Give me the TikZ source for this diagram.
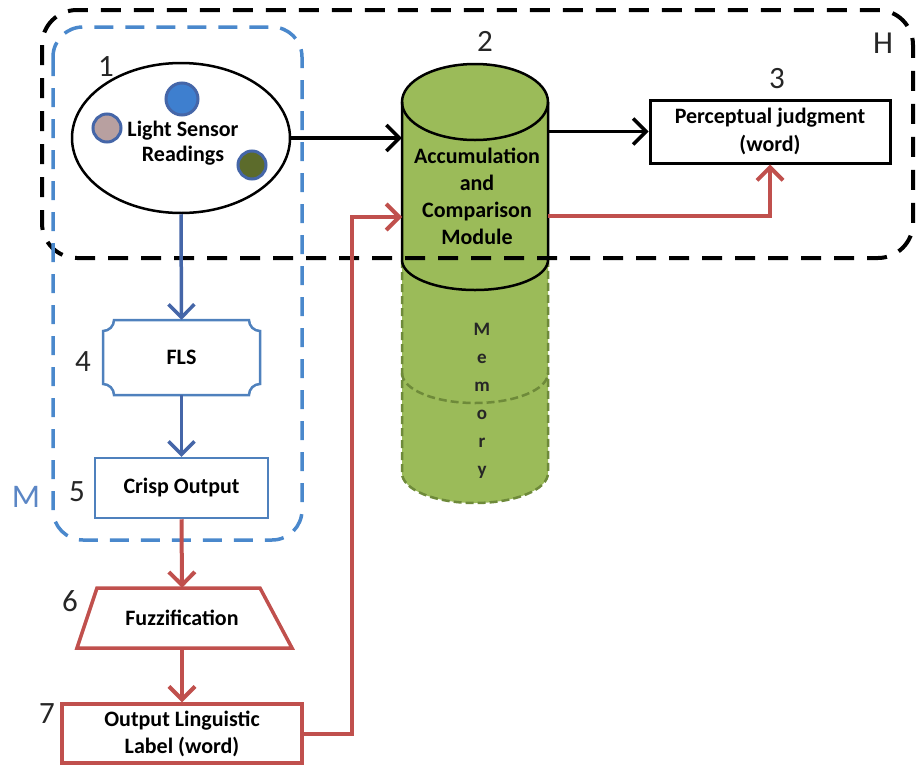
\documentclass[tikz,border=0pt]{standalone}
\usepackage{fontspec}
\setmainfont{Carlito}
\usetikzlibrary{arrows.meta,shapes.geometric,calc}
\definecolor{myred}{HTML}{C0504D}
\definecolor{myblue}{HTML}{4F81BD}
\definecolor{arrblue}{HTML}{4566A8}
\definecolor{dashblue}{HTML}{4A88CC}
\definecolor{cylgreen}{HTML}{9BBB59}
\definecolor{memedge}{HTML}{6E8A3A}
\definecolor{numgray}{HTML}{262626}
\definecolor{mlabel}{HTML}{5B86C5}
\definecolor{dotblue}{HTML}{3E7FCF}
\begin{document}
\begin{tikzpicture}[x=1pt,y=-1pt,
  txt/.style={font=\bfseries\fontsize{22}{27}\selectfont, align=center, text=black},
  numlbl/.style={font=\fontsize{31}{33}\selectfont, text=numgray, inner sep=0},
  arr/.style={line width=3.5pt, -{Straight Barb[length=13pt,width=26pt]}},
  bluebox/.style={draw=myblue, line width=2.5pt},
  redbox/.style={draw=myred, line width=3.5pt},
  dot/.style={circle, draw=arrblue, line width=3pt, inner sep=0, minimum size=28pt}]
\useasboundingbox (0,0) rectangle (921,766);

% ---- Memory (dashed lower cylinder)
\draw[memedge, line width=2.5pt, dash pattern=on 8pt off 4pt, fill=cylgreen]
  (402,260) -- (402,473) arc[start angle=180,end angle=0,x radius=73,y radius=30] -- (548,260);
\draw[memedge, line width=2.5pt, dash pattern=on 8pt off 4pt]
  (402,373) arc[start angle=180,end angle=0,x radius=73,y radius=30];
\node[font=\bfseries\fontsize{19}{28}\selectfont, align=center, text=numgray] (mem) at (482,401) {M\\e\\m\\o\\r\\y};

% ---- Accumulation cylinder
\fill[cylgreen] (402,102) -- (402,260) arc[start angle=180,end angle=0,x radius=73,y radius=30]
  -- (548,102) arc[start angle=0,end angle=-180,x radius=73,y radius=38] -- cycle;
\draw[black, line width=2.5pt] (402,102) -- (402,260) arc[start angle=180,end angle=0,x radius=73,y radius=30] -- (548,102);
\draw[black, line width=2.5pt] (475,102) ellipse [x radius=73, y radius=38];
\node[minimum width=146pt, minimum height=158pt, inner sep=0] (cyl) at (475,181) {};
\node[txt] (acm) at (477,196) {Accumulation\\and\\Comparison\\Module};

% ---- H box
\draw[black, line width=4pt, dash pattern=on 20pt off 13pt, rounded corners=35pt] (42,10) rectangle (913,258);
\node[numlbl, font=\fontsize{32}{34}\selectfont] (hl) at (883,43) {H};

% ---- M box
\draw[dashblue, line width=3.5pt, dash pattern=on 19pt off 12pt, rounded corners=30pt] (53,27) rectangle (302,540);
\node[numlbl, text=mlabel, font=\fontsize{33}{35}\selectfont] (ml) at (26,497) {M};

% ---- Light sensor ellipse
\node[ellipse, draw=black, line width=2.5pt, minimum width=218pt, minimum height=150pt, inner sep=0] (ell) at (181,138) {};
\node[txt, font=\bfseries\fontsize{22}{25}\selectfont] (lsr) at (183,143) {Light Sensor\\Readings};
\node[dot, fill=dotblue, minimum size=32pt] (d1) at (182,99) {};
\node[dot, fill={rgb,255:red,184;green,160;blue,160}] (d2) at (107,128) {};
\node[dot, fill={rgb,255:red,92;green,107;blue,43}] (d3) at (252,165) {};

% ---- Perceptual judgment
\node[draw=black, line width=3pt, minimum width=240pt, minimum height=63pt, txt, font=\bfseries\fontsize{22}{28}\selectfont] (pj) at (770,131.5) {Perceptual judgment\\(word)};

% ---- FLS
\draw[bluebox] (114,320) -- (249,320) arc[start angle=180,end angle=90,radius=11]
  -- (260,384) arc[start angle=270,end angle=180,radius=11]
  -- (114,395) arc[start angle=0,end angle=-90,radius=11]
  -- (103,331) arc[start angle=90,end angle=0,radius=11] -- cycle;
\node[minimum width=157pt, minimum height=75pt, inner sep=0, txt] (fls) at (181.5,357.5) {FLS};

% ---- Crisp output
\node[bluebox, minimum width=173pt, minimum height=60pt, inner sep=0, txt] (crisp) at (181.5,488) {Crisp Output};

% ---- Fuzzification
\draw[redbox, line join=miter] (97,588) -- (260,588) -- (292,648) -- (77,648) -- cycle;
\node[minimum width=160pt, minimum height=60pt, inner sep=0, txt] (fz) at (182,618) {Fuzzification};

% ---- Output linguistic label
\node[redbox, minimum width=240pt, minimum height=59pt, inner sep=0, txt] (ol) at (182,733.5) {Output Linguistic\\Label (word)};

% ---- number labels
\node[numlbl] (n1) at (106,67) {1};
\node[numlbl] (n2) at (485,41) {2};
\node[numlbl] (n3) at (777,79) {3};
\node[numlbl] (n4) at (83,362) {4};
\node[numlbl] (n5) at (77,492) {5};
\node[numlbl] (n6) at (70,601) {6};
\node[numlbl] (n7) at (47,714) {7};

% ---- connector helpers
\coordinate (cin) at (402,217);
\coordinate (cout) at (548,216);
\coordinate (rb) at (352,733.5);

% ---- connectors
\draw[arrblue, arr] (ell.south) -- (fls.north);
\draw[arrblue, arr] (fls.south) -- (crisp.north);
\draw[myred, arr, line width=4pt] (crisp.south) -- (fz.north);
\draw[myred, arr, line width=4pt] (fz.south) -- (ol.north);
\draw[myred, arr, line width=4pt] (ol.east) -- (rb) |- (cin);
\draw[black, arr] (ell.east) -- (ell.east -| cyl.west);
\draw[black, arr] (cyl.east |- pj.west) -- (pj.west);
\draw[myred, arr, line width=4pt] (cout) -| (pj.south);
\end{tikzpicture}
\end{document}
